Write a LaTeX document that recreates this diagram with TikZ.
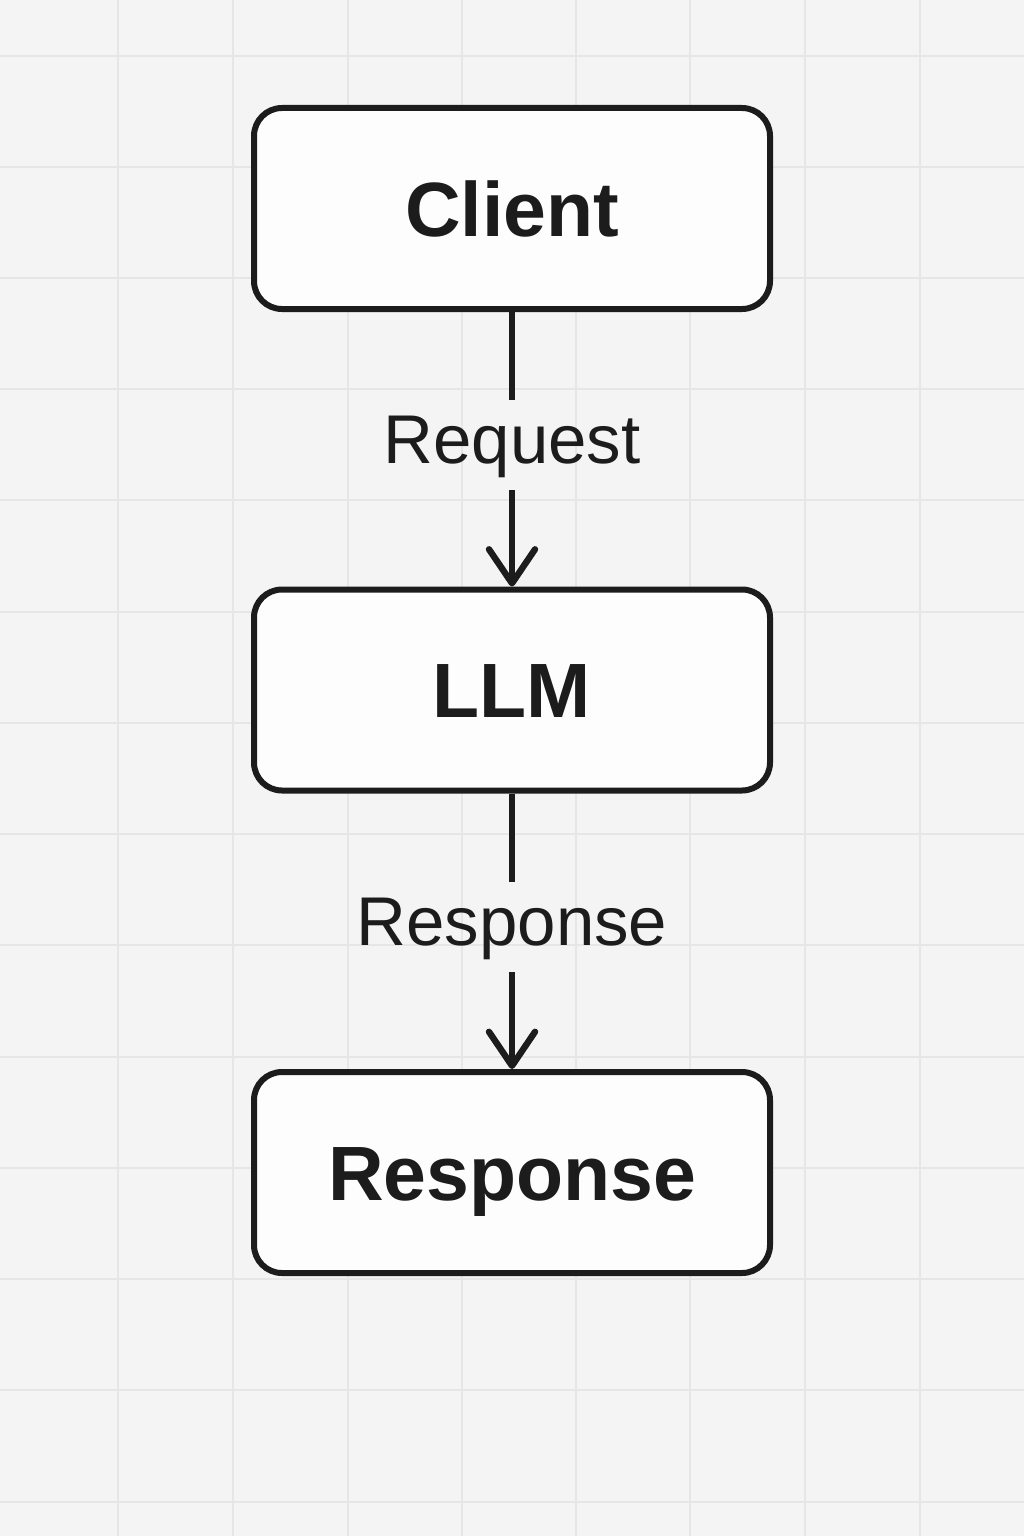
\documentclass[tikz,border=0pt]{standalone}
\usepackage{fontspec}
\setmainfont{Liberation Sans}
\usetikzlibrary{arrows.meta}
\definecolor{bg}{HTML}{F4F4F4}
\definecolor{gridc}{HTML}{E6E6E6}
\definecolor{ink}{HTML}{1C1C1C}
\definecolor{boxfill}{HTML}{FDFDFD}
\tikzset{
  stepbox/.style={draw=ink, line width=3pt, fill=boxfill, rounded corners=14pt,
    minimum width=258pt, minimum height=100.5pt, inner sep=0pt,
    text height=27.6pt, text depth=0pt, text=ink,
    font=\fontsize{38.5}{40}\selectfont\bfseries},
  edgelabel/.style={anchor=base, text=ink, inner sep=0pt,
    font=\fontsize{34.5}{36}\selectfont},
  conn/.style={draw=ink, line width=2.6pt},
  arrowconn/.style={conn, -{Straight Barb[length=17pt,width=23pt,line width=3.2pt,line cap=round,line join=round]}},
}
\begin{document}
\begin{tikzpicture}[x=0.5pt,y=-0.5pt]
  \useasboundingbox (0,0) rectangle (1024,1536);
  \fill[bg] (0,0) rectangle (1024,1536);
  \foreach \gx in {118,233,348,462,576,690,805,920}
    \draw[gridc, line width=0.7pt] (\gx,0) -- (\gx,1536);
  \foreach \gy in {56,167,278,389,500,612,723,834,945,1057,1168,1279,1390,1502}
    \draw[gridc, line width=0.7pt] (0,\gy) -- (1024,\gy);

  \node[stepbox] (client) at (512,208.5) {Client};
  \node[stepbox] (llm) at (512,690) {LLM};
  \node[stepbox] (resp) at (512,1172.5) {Response};

  \node[edgelabel] (req) at (512,463) {Request};
  \node[edgelabel] (resl) at (512,945) {Response};

  \coordinate (reqtop) at (512,400);
  \coordinate (reqbot) at (512,490);
  \coordinate (restop) at (512,882);
  \coordinate (resbot) at (512,972);

  \draw[conn] (client.south) -- (reqtop);
  \draw[arrowconn] (reqbot) -- (llm.north);
  \draw[conn] (llm.south) -- (restop);
  \draw[arrowconn] (resbot) -- (resp.north);
\end{tikzpicture}
\end{document}
